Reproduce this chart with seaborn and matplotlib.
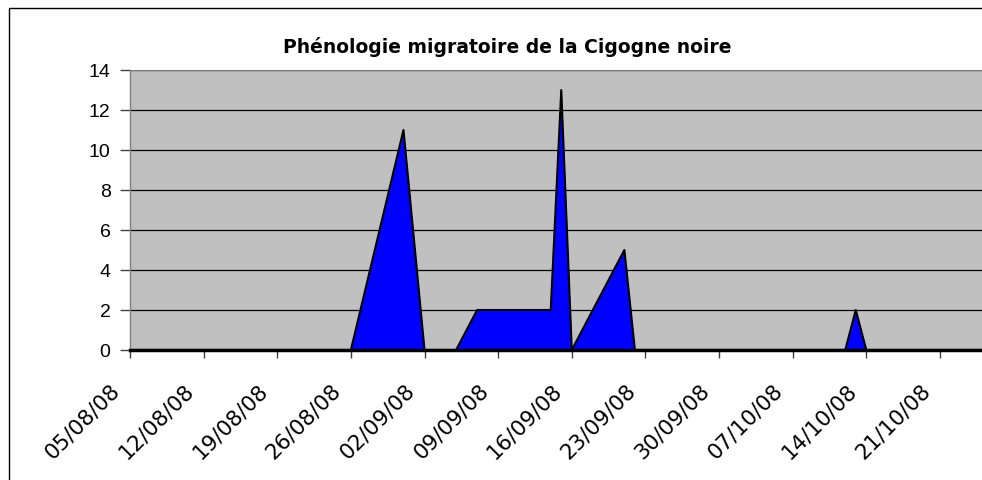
import pandas as pd
import matplotlib.pyplot as plt
import matplotlib.dates as mdates
import matplotlib.transforms as mtransforms
from matplotlib.patches import Rectangle
import seaborn as sns

dates = ['2008-08-05', '2008-08-26', '2008-08-31', '2008-09-02', '2008-09-05',
         '2008-09-07', '2008-09-14', '2008-09-15', '2008-09-16', '2008-09-21',
         '2008-09-22', '2008-10-12', '2008-10-13', '2008-10-14', '2008-10-25']
counts = [0, 0, 11, 0, 0, 2, 2, 13, 0, 5, 0, 0, 2, 0, 0]
tick_dates = pd.date_range('2008-08-05', '2008-10-21', freq='7D')
title = 'Phénologie migratoire de la Cigogne noire'

df = pd.DataFrame({'date': pd.to_datetime(dates), 'count': counts})

sns.set_style('white')
plt.rcParams['font.family'] = ['Liberation Sans', 'DejaVu Sans']
plt.rcParams['text.color'] = 'black'
plt.rcParams['xtick.labelcolor'] = 'black'
plt.rcParams['ytick.labelcolor'] = 'black'

fig = plt.figure(figsize=(9.82, 4.81), dpi=100)
ax = fig.add_axes([130 / 982, 1 - 351 / 481, 1 - 130 / 982, 280 / 481])

# outer chart border (cropped on right/bottom)
fig.patches.append(Rectangle((9 / 982, -0.1), 1.2, 1 - 9 / 481 + 0.1,
                             transform=fig.transFigure, fill=False,
                             edgecolor='black', linewidth=1.0))

ax.set_facecolor('#C0C0C0')
ax.fill_between(df['date'], df['count'], 0, color='#0000FF', linewidth=0, zorder=3)
sns.lineplot(data=df, x='date', y='count', ax=ax, color='black', linewidth=1.5, zorder=4)

ax.set_xlim(pd.Timestamp('2008-08-05'), pd.Timestamp('2008-10-25'))
ax.set_ylim(0, 14)
ax.set_yticks(range(0, 15, 2))
ax.set_xticks(tick_dates)
ax.xaxis.set_major_formatter(mdates.DateFormatter('%d/%m/%y'))
ax.yaxis.grid(True, color='black', linewidth=0.9)
ax.set_axisbelow(True)

ax.set_xlabel('')
ax.set_ylabel('')
ax.tick_params(axis='y', labelsize=14, length=7, width=1, color='#404040',
               labelcolor='black', direction='out', left=True, pad=7)
ax.tick_params(axis='x', labelsize=15.5, length=6, width=1, color='#404040',
               labelcolor='black', direction='out', bottom=True, pad=20)
shift = mtransforms.ScaledTranslation(-13 / 100, 0, fig.dpi_scale_trans)
for lbl in ax.get_xticklabels():
    lbl.set_family(['DejaVu Sans'])
    lbl.set_rotation(45)
    lbl.set_ha('right')
    lbl.set_va('center')
    lbl.set_rotation_mode('anchor')
    lbl.set_transform(lbl.get_transform() + shift)

for side in ['top', 'right']:
    ax.spines[side].set_visible(False)
ax.spines['left'].set_color('#808080')
ax.spines['left'].set_linewidth(1)
ax.spines['bottom'].set_color('black')
ax.spines['bottom'].set_linewidth(2.5)
ax.spines['bottom'].set_zorder(5)
ax.axhline(14, color='#909090', linewidth=1.2)

fig.text(507 / 982, 1 - 47 / 481, title, ha='center', va='center', color='black',
         fontsize=13.5, fontweight='bold', family=['DejaVu Sans'])

fig.savefig('out.png', dpi=100)
